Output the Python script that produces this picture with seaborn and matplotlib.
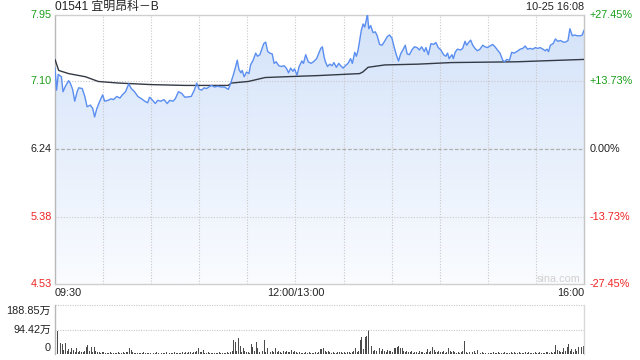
import numpy as np
import matplotlib
matplotlib.use('Agg')
import matplotlib.pyplot as plt
import seaborn as sns
from matplotlib.colors import LinearSegmentedColormap

sns.set_theme(style='white')
plt.rcParams['font.family'] = ['Liberation Sans', 'Noto Sans CJK SC', 'DejaVu Sans']

title = '01541 宜明昂科－B'
stamp = '10-25 16:08'
price_ticks = [7.95, 7.10, 6.24, 5.38, 4.53]
pct_labels = ['+27.45%', '+13.73%', '0.00%', '-13.73%', '-27.45%']
label_colors = ['#1a9e1a', '#1a9e1a', '#222222', '#ee2222', '#ee2222']
time_labels = ['09:30', '12:00/13:00', '16:00']
time_pos = [0, 150, 330]
vol_labels = ['188.85万', '94.42万', '0']
vol_ticks = [188.85, 94.42, 0]

price_t = [0, 1, 2, 4, 5, 6.5, 8.5, 9.5, 11, 12.3, 13.8, 14.8, 17, 18.6, 20, 22, 23.5, 24.7, 26, 27.5,
           29.7, 31, 33, 35, 36.5, 38.5, 40.5, 42, 44, 46, 47.6, 49.6, 51.7, 54, 56, 57.8, 59, 60.5, 62.6, 64,
           66, 68, 70, 71.5, 73.6, 75, 77, 79, 81, 85, 87, 88.4, 90, 91.5, 93, 94.5, 96, 97.5, 99.5, 101.5,
           103.6, 105.7, 108.1, 109.3, 111.2, 112.7, 113.7, 114.8, 116, 116.8, 118, 119.5, 121, 122, 123.6, 125.2, 126.3, 127.8, 129.2, 130.2,
           131.4, 132.7, 134, 135.5, 136.7, 138, 139.6, 141.2, 142.9, 144.3, 145.7, 147, 148.4, 149.4, 151, 152.3, 154, 155, 156.4, 158,
           159.7, 161.2, 163.2, 165, 165.8, 166.8, 167.9, 168.7, 170, 171.4, 172.8, 174, 175.5, 177, 178.2, 179.7, 181.1, 182.8, 184.4, 185.5,
           187, 188, 189, 190.1, 191.1, 192.2, 193.2, 194.2, 194.9, 195.7, 196.9, 198.4, 199.8, 201, 202.5, 204, 205.6, 207.3, 208.7, 210.2,
           211.4, 212.9, 214.3, 215.6, 217, 218.5, 219.7, 221.1, 222.6, 224.2, 225.9, 227.3, 228.7, 230.4, 231.4, 232.9, 234.5, 236.2, 237.6, 239.1,
           240.7, 242.4, 243.8, 244.9, 245.9, 247.6, 248.5, 249.6, 251, 253, 254.3, 255.8, 256.8, 257.8, 259.3, 260.6, 262, 263.5, 265.1, 266.8,
           268.3, 269.7, 271.4, 273, 274.5, 276, 277.6, 279.3, 280.4, 281.8, 283.5, 284.9, 286.4, 288.1, 290.2, 291.8, 293.3, 294.8, 296.5, 298.1,
           299.6, 301, 302.7, 304.4, 305.8, 306.9, 307.9, 309, 310.7, 312.2, 313.6, 315.4, 317, 318.5, 320, 321.2, 322.7, 324.2, 325.8, 327.9,
           328.9, 330]
price_v = [7.27, 6.99, 7.19, 7.16, 6.97, 7.04, 7.11, 7.08, 7.00, 6.85, 6.97, 7.02, 7.01, 6.91, 6.78, 6.80, 6.76, 6.65, 6.75, 6.83,
           6.93, 6.85, 6.86, 6.88, 6.87, 6.91, 6.89, 6.93, 6.97, 7.07, 7.01, 6.97, 6.91, 6.88, 6.85, 6.83, 6.90, 6.87, 6.82, 6.86,
           6.85, 6.87, 6.82, 6.86, 6.85, 6.88, 6.97, 6.95, 6.90, 6.91, 6.995, 7.08, 7.00, 6.99, 7.02, 7.01, 7.03, 7.05, 7.03, 7.04,
           7.03, 7.03, 7.00, 7.06, 7.18, 7.29, 7.37, 7.25, 7.21, 7.24, 7.16, 7.22, 7.20, 7.31, 7.37, 7.46, 7.42, 7.44, 7.52, 7.58,
           7.60, 7.48, 7.46, 7.45, 7.33, 7.35, 7.30, 7.29, 7.30, 7.27, 7.21, 7.27, 7.23, 7.26, 7.18, 7.29, 7.36, 7.33, 7.44, 7.35,
           7.33, 7.35, 7.39, 7.48, 7.52, 7.54, 7.41, 7.35, 7.29, 7.32, 7.30, 7.34, 7.28, 7.33, 7.30, 7.27, 7.30, 7.33, 7.39, 7.33,
           7.47, 7.42, 7.49, 7.625, 7.75, 7.83, 7.79, 7.88, 7.96, 7.77, 7.81, 7.72, 7.73, 7.68, 7.57, 7.56, 7.61, 7.67, 7.69, 7.65,
           7.55, 7.44, 7.36, 7.45, 7.50, 7.56, 7.45, 7.44, 7.50, 7.54, 7.53, 7.50, 7.54, 7.48, 7.53, 7.44, 7.58, 7.57, 7.595, 7.53,
           7.50, 7.44, 7.42, 7.46, 7.39, 7.44, 7.39, 7.47, 7.51, 7.50, 7.52, 7.61, 7.56, 7.59, 7.625, 7.56, 7.52, 7.49, 7.51, 7.56,
           7.54, 7.53, 7.55, 7.57, 7.54, 7.50, 7.46, 7.37, 7.35, 7.38, 7.37, 7.47, 7.46, 7.48, 7.51, 7.52, 7.55, 7.51, 7.52, 7.51,
           7.53, 7.52, 7.53, 7.51, 7.49, 7.51, 7.48, 7.56, 7.58, 7.64, 7.61, 7.62, 7.60, 7.60, 7.62, 7.77, 7.68, 7.69, 7.68, 7.68,
           7.69, 7.75]

avg_t = [0, 2.3, 8.5, 19, 27, 39.7, 60.5, 81.3, 108, 110, 120.5, 124.8, 131, 143.5, 164.3, 190, 192, 195.3, 205.7, 226.5, 247.2, 288, 330]
avg_v = [7.38, 7.24, 7.20, 7.16, 7.10, 7.08, 7.06, 7.05, 7.05, 7.08, 7.10, 7.12, 7.15, 7.16, 7.175, 7.20, 7.22, 7.28, 7.31, 7.32, 7.34, 7.35, 7.38]

volume = [
    95, 90, 12, 43, 39, 15, 42, 10, 18, 8, 24, 15, 9, 22, 8, 10, 7, 9, 12, 26, 33, 10, 28, 8, 28, 10, 6, 8, 5, 7,
    6, 4, 5, 3, 6, 4, 3, 5, 4, 6, 3, 5, 7, 4, 6, 8, 22, 15, 6, 5, 4, 3, 5, 4, 3, 6, 4, 3, 5, 4,
    3, 5, 4, 6, 3, 4, 5, 3, 4, 6, 5, 3, 4, 5, 6, 4, 3, 5, 4, 6, 5, 8, 4, 6, 7, 5, 8, 6, 10, 22,
    9, 6, 15, 5, 4, 6, 3, 5, 4, 3, 5, 4, 6, 3, 4, 5, 3, 6, 4, 8, 10, 55, 45, 12, 60, 30, 8, 22, 10, 8,
    6, 5, 40, 28, 12, 46, 25, 8, 6, 10, 55, 8, 25, 15, 6, 10, 8, 25, 6, 12, 8, 5, 10, 6, 12, 9, 6, 14, 8, 10,
    6, 5, 8, 4, 3, 5, 6, 4, 7, 3, 5, 4, 6, 5, 8, 20, 18, 22, 12, 6, 10, 8, 5, 6, 4, 5, 8, 6, 9, 5,
    7, 5, 6, 8, 4, 6, 10, 25, 8, 12, 55, 67, 20, 65, 68, 92, 40, 30, 12, 15, 10, 22, 25, 12, 18, 10, 8, 14, 10, 12,
    8, 25, 22, 28, 30, 25, 22, 12, 8, 10, 6, 8, 12, 5, 8, 6, 4, 10, 6, 8, 5, 8, 20, 6, 12, 28, 15, 8, 6, 10,
    8, 6, 12, 5, 8, 22, 10, 6, 12, 8, 5, 6, 4, 8, 10, 50, 6, 5, 8, 18, 6, 10, 5, 15, 8, 4, 6, 5, 4, 6,
    5, 4, 3, 6, 5, 4, 8, 3, 5, 4, 6, 5, 3, 4, 6, 5, 8, 4, 5, 6, 4, 3, 5, 8, 4, 6, 5, 3, 4, 6,
    5, 4, 6, 3, 5, 4, 6, 8, 5, 6, 4, 8, 35, 15, 10, 6, 8, 22, 10, 28, 38, 12, 18, 8, 20, 10, 28, 15, 28, 30,
]
vol_t = np.arange(len(volume)) + 0.5

W, H = 640, 360
fig = plt.figure(figsize=(6.4, 3.6), dpi=100)
fig.patch.set_facecolor('white')

def fx(px):
    return px / W

def fy(py):
    return 1 - py / H

L, R = 55, 584
ax = fig.add_axes([fx(L), fy(284), fx(R - L), fy(14.5) - fy(284)])
ax.set_facecolor('white')
ax.set_xlim(0, 330)
ax.set_ylim(4.53, 7.95)

# gradient fill under price
poly = ax.fill_between(price_t, price_v, 4.53, color='none', lw=0)
cmap = LinearSegmentedColormap.from_list('g', ['#d3e2f9', '#fafcff'])
grad = np.linspace(1, 0, 256).reshape(-1, 1)
im = ax.imshow(grad, extent=[0, 330, 4.53, 7.95], origin='lower', aspect='auto', cmap=cmap, zorder=1)
im.set_clip_path(poly.get_paths()[0], transform=ax.transData)

# grid
for t in range(30, 330, 30):
    ax.axvline(t, color='#c8c8c8', lw=0.8, ls=(0, (1, 1.5)), zorder=2)
for p in [7.10, 5.38]:
    ax.axhline(p, color='#c8c8c8', lw=0.8, ls=(0, (1, 1.5)), zorder=2)
ax.axhline(6.24, color='#b0b0b0', lw=0.9, ls=(0, (3, 1.5)), zorder=2)

sns.lineplot(x=price_t, y=price_v, ax=ax, color='#5a8ef0', lw=1.0, zorder=4, sort=False)
sns.lineplot(x=avg_t, y=avg_v, ax=ax, color='#333a44', lw=1.0, zorder=3, sort=False)
ax.set_xlim(0, 330)
ax.set_ylim(4.53, 7.95)
ax.set_xticks([])
ax.set_yticks([])
ax.set_xlabel('')
ax.set_ylabel('')
for s in ['top', 'bottom', 'left', 'right']:
    ax.spines[s].set_visible(True)
    ax.spines[s].set_color('#cfcfcf')
    ax.spines[s].set_linewidth(1.0)
ax.spines['left'].set_color('#b8b8b8')
ax.spines['right'].set_color('#c4c4c4')

fs = 7.8
for p, lab, c in zip(price_ticks, pct_labels, label_colors):
    ax.text(-0.006, p, f'{p:.2f}', transform=ax.get_yaxis_transform(), ha='right', va='center',
            fontsize=fs, color=c)
    ax.text(1.011, p, lab, transform=ax.get_yaxis_transform(), ha='left', va='center',
            fontsize=fs, color=c)

fig.text(fx(L), fy(7.3), title, ha='left', va='center', fontsize=8.6, color='#222222')
fig.text(fx(R), fy(7.3), stamp, ha='right', va='center', fontsize=7.8, color='#222222')

has = ['left', 'center', 'right']
for tp, lab, ha in zip(time_pos, time_labels, has):
    fig.text(fx(L + tp * (R - L) / 330), fy(293), lab, ha=ha, va='center', fontsize=fs, color='#222222')

fig.text(fx(580), fy(279), 'sina.com', ha='right', va='center', fontsize=7.8, color='#d0d0d0')

# volume panel
vax = fig.add_axes([fx(L), fy(354), fx(R - L), fy(305) - fy(354)])
vax.set_facecolor('white')
vax.bar(vol_t, volume, width=0.6, color='#4a4a4a', lw=0)
vax.set_xlim(0, 330)
vax.set_ylim(0, 188.85)
vax.axhline(188.85, color='#c8c8c8', lw=0.8, ls=(0, (1, 1.2)), clip_on=False)
vax.axhline(94.42, color='#c8c8c8', lw=0.8, ls=(0, (1, 1.2)))
vax.set_xticks([])
vax.set_yticks([])
for s in ['top', 'bottom']:
    vax.spines[s].set_visible(False)
vax.spines['left'].set_color('#b8b8b8')
vax.spines['right'].set_color('#d8d8d8')
vax.spines['left'].set_linewidth(1.0)
vax.spines['right'].set_linewidth(1.0)

for lab, py in zip(vol_labels, [311, 330, 348]):
    fig.text(fx(51), fy(py), lab, ha='right', va='center', fontsize=fs, color='#222222')

fig.savefig('out.png', dpi=100, facecolor='white')
